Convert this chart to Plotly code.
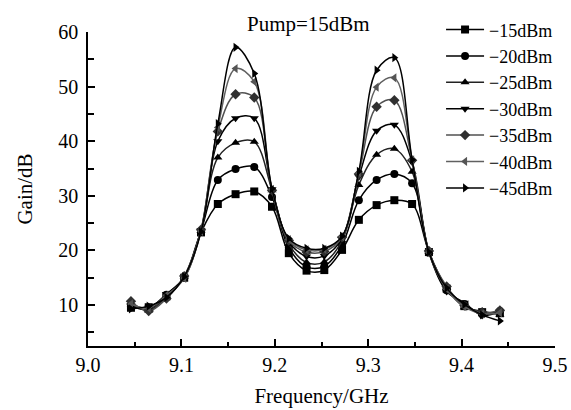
import plotly.graph_objects as go

freq = [9.046, 9.065, 9.084, 9.103, 9.121, 9.139, 9.158, 9.178, 9.197, 9.215, 9.234,
        9.253, 9.272, 9.290, 9.309, 9.328, 9.347, 9.365, 9.384, 9.403, 9.422, 9.441]

g_m15 = [9.5, 9.6, 11.6, 15.0, 23.3, 28.5, 30.3, 30.8, 28.0, 19.5, 16.3, 16.4, 20.1, 25.6, 28.3, 29.2, 28.5, 19.7, 13.0, 9.8, 8.7, 8.5]
g_m20 = [9.8, 9.2, 11.9, 15.1, 23.5, 32.9, 34.9, 35.3, 29.8, 20.5, 17.0, 17.1, 21.0, 29.2, 32.9, 34.0, 32.3, 19.6, 12.7, 10.2, 8.3, 8.9]
g_m25 = [10.4, 9.0, 11.5, 15.2, 23.6, 37.0, 39.7, 39.9, 31.0, 21.2, 17.8, 17.9, 21.8, 32.0, 37.5, 38.6, 34.4, 19.8, 13.2, 9.6, 8.9, 8.2]
g_m30 = [10.0, 9.5, 12.0, 15.0, 23.7, 40.0, 44.2, 44.2, 31.2, 21.6, 18.9, 19.0, 22.2, 33.5, 41.9, 43.0, 36.2, 19.7, 12.5, 10.4, 8.1, 8.8]
g_m35 = [10.7, 8.9, 11.2, 15.3, 23.8, 41.8, 48.6, 48.0, 31.0, 21.8, 19.7, 19.8, 22.4, 34.0, 46.3, 47.5, 36.5, 19.9, 13.4, 9.9, 8.6, 9.0]
g_m40 = [10.2, 9.4, 11.8, 14.9, 23.5, 42.5, 53.3, 50.9, 31.2, 22.0, 20.1, 20.2, 22.5, 34.2, 49.9, 51.6, 36.6, 19.6, 12.9, 9.7, 8.4, 8.6]
g_m45 = [9.3, 9.8, 11.4, 15.2, 23.4, 43.2, 57.2, 52.4, 31.3, 22.2, 20.4, 20.4, 22.6, 34.5, 53.0, 55.3, 36.6, 19.7, 13.1, 10.1, 8.2, 7.1]

labels = ["\u221215dBm", "\u221220dBm", "\u221225dBm", "\u221230dBm", "\u221235dBm", "\u221240dBm", "\u221245dBm"]
series = [g_m15, g_m20, g_m25, g_m30, g_m35, g_m40, g_m45]
symbols = ["square", "circle", "triangle-up", "triangle-down", "diamond", "triangle-left", "triangle-right"]
line_colors = ["#000000", "#000000", "#222222", "#000000", "#505050", "#606060", "#000000"]
marker_colors = ["#000000", "#000000", "#000000", "#000000", "#303030", "#555555", "#000000"]

FONT = "Liberation Serif, Times New Roman, serif"

fig = go.Figure()
for lab, ys, sym, lc, mc in zip(labels, series, symbols, line_colors, marker_colors):
    fig.add_trace(go.Scatter(
        x=freq, y=ys, name=lab, mode="lines+markers",
        line=dict(color=lc, width=1.5, shape="spline", smoothing=1.0),
        marker=dict(symbol=sym, size=8, color=mc),
    ))

fig.update_layout(
    width=571, height=410,
    margin=dict(l=88, r=16, t=32, b=64, autoexpand=False),
    paper_bgcolor="white", plot_bgcolor="white",
    font=dict(family=FONT, size=20, color="black"),
    showlegend=True,
    legend=dict(x=0.756, y=1.066, xanchor="left", yanchor="top",
                bgcolor="rgba(0,0,0,0)", font=dict(family=FONT, size=18),
                itemwidth=38, tracegroupgap=0),
    annotations=[dict(text="Pump=15dBm", x=0.473, y=1.026, xref="paper", yref="paper",
                      xanchor="center", yanchor="middle",
                      showarrow=False, font=dict(family=FONT, size=21))],
)
fig.update_xaxes(
    range=[9.0, 9.5], tickvals=[9.0, 9.1, 9.2, 9.3, 9.4, 9.5], tickformat=".1f",
    showline=True, linecolor="black", linewidth=1.5, mirror=False,
    ticks="inside", ticklen=7, tickwidth=1.5, tickcolor="black",
    minor=dict(tickvals=[9.05, 9.15, 9.25, 9.35, 9.45], ticks="inside", ticklen=4, tickwidth=1.5, tickcolor="black"),
    showgrid=False, zeroline=False,
    title=dict(text="Frequency/GHz", font=dict(family=FONT, size=21), standoff=14),
)
fig.update_yaxes(
    range=[2.5, 60], tickvals=[10, 20, 30, 40, 50, 60],
    showline=True, linecolor="black", linewidth=1.5, mirror=False,
    ticks="inside", ticklen=7, tickwidth=1.5, tickcolor="black",
    ticklabelstandoff=4,
    minor=dict(tickvals=[5, 15, 25, 35, 45, 55], ticks="inside", ticklen=6, tickwidth=1.5, tickcolor="black"),
    showgrid=False, zeroline=False,
    title=dict(text="Gain/dB", font=dict(family=FONT, size=21), standoff=20),
)

fig.write_html("out.html", config={"displayModeBar": False},
               post_script="document.body.style.margin='0';document.body.style.overflow='hidden';")
